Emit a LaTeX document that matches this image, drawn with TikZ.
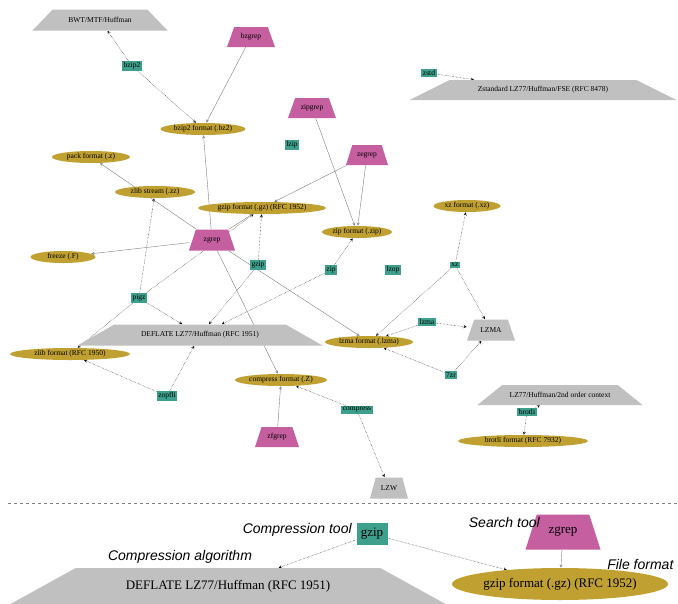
\documentclass[tikz,border=0pt]{standalone}
\usepackage{fontspec}
\setmainfont{Liberation Serif}
\newfontfamily\legendfont{Liberation Sans}
\usepackage{tikz}
\usetikzlibrary{calc,shapes.geometric,backgrounds}

\definecolor{algogray}{RGB}{192,192,192}
\definecolor{searchpink}{RGB}{197,95,160}
\definecolor{tealbox}{RGB}{62,160,140}
\definecolor{formatgold}{RGB}{191,160,48}

\newcommand{\mainsize}{\fontsize{7.5}{8}\selectfont}
\newcommand{\legendsize}{\fontsize{13}{15}\selectfont}

\tikzset{
  trap/.style={rectangle, inner sep=1pt, path picture={
    \fill[#1] (path picture bounding box.south west) -- (path picture bounding box.south east)
      -- ($(path picture bounding box.north east)!0.15!(path picture bounding box.north west)$)
      -- ($(path picture bounding box.north west)!0.15!(path picture bounding box.north east)$) -- cycle;}},
  algo/.style={trap=algogray, font=\mainsize},
  search/.style={trap=searchpink, font=\mainsize},
  tool/.style={rectangle, fill=tealbox, inner sep=1.5pt, font=\mainsize},
  format/.style={ellipse, fill=formatgold, inner xsep=-8pt, inner ysep=0pt, minimum height=12, font=\mainsize},
  toollink/.style={->, >=stealth, densely dotted},
  searchlink/.style={->, >=stealth, gray},
  legendlabel/.style={font=\legendfont\itshape\fontsize{14}{16}\selectfont, inner sep=1pt}
}

\begin{document}
\begin{tikzpicture}[x=1pt, y=-1pt, semithick]
  \useasboundingbox (0,0) rectangle (678,603);

  % algorithms
  \node[algo, minimum width=135, minimum height=21] (bwt) at (100,20) {BWT/MTF/Huffman};
  \node[algo, minimum width=267, minimum height=20] (zstdalg) at (543,90) {Zstandard LZ77/Huffman/FSE (RFC 8478)};
  \node[algo, minimum width=245, minimum height=21] (deflate) at (200,335) {DEFLATE LZ77/Huffman (RFC 1951)};
  \node[algo, minimum width=48, minimum height=21] (lzma) at (491,330) {LZMA};
  \node[algo, minimum width=165, minimum height=20] (brotlialg) at (560,395) {LZ77/Huffman/2nd order context};
  \node[algo, minimum width=38, minimum height=21] (lzw) at (389,488) {LZW};

  % search tools
  \node[search, minimum width=48, minimum height=20] (bzgrep) at (251,37) {bzgrep};
  \node[search, minimum width=48, minimum height=20] (zipgrep) at (312,108) {zipgrep};
  \node[search, minimum width=42, minimum height=20] (zegrep) at (367,155) {zegrep};
  \node[search, minimum width=46, minimum height=21] (zgrep) at (212,240) {zgrep};
  \node[search, minimum width=44, minimum height=20] (zfgrep) at (277,437) {zfgrep};

  % compression tools
  \node[tool] (bzip2) at (132,66) {bzip2};
  \node[tool] (zstd) at (429,73) {zstd};
  \node[tool] (lzip) at (292,145) {lzip};
  \node[tool] (pigz) at (139,298) {pigz};
  \node[tool] (gzip) at (258,265) {gzip};
  \node[tool] (zip) at (331,270) {zip};
  \node[tool] (lzop) at (393,270) {lzop};
  \node[tool] (xz) at (455,265) {xz};
  \node[tool] (lzmatool) at (427,322) {lzma};
  \node[tool] (unlzma) at (451,375) {7zr};
  \node[tool] (zopfli) at (167,396) {zopfli};
  \node[tool] (compress) at (357,410) {compress};
  \node[tool] (brotli) at (527,412) {brotli};

  % file formats
  \node[format, minimum width=85] (bzfmt) at (203,129) {bzip2 format (.bz2)};
  \node[format, minimum width=78] (packfmt) at (91,157) {pack format (.z)};
  \node[format, minimum width=80] (zzfmt) at (155,192) {zlib stream (.zz)};
  \node[format, minimum width=128] (gzfmt) at (262,208) {gzip format (.gz) (RFC 1952)};
  \node[format, minimum width=65] (freezefmt) at (63,257) {freeze (.F)};
  \node[format, minimum width=70] (zipfmt) at (357,232) {zip format (.zip)};
  \node[format, minimum width=67] (xzfmt) at (467,206) {xz format (.xz)};
  \node[format, minimum width=120] (zlibfmt) at (70,354) {zlib format (RFC 1950)};
  \node[format, minimum width=88] (lzmafmt) at (369,342) {lzma format (.lzma)};
  \node[format, minimum width=92] (Zfmt) at (281,380) {compress format (.Z)};
  \node[format, minimum width=130] (brfmt) at (523,441) {brotli format (RFC 7932)};

  % legend
  \node[tool, font=\legendsize, minimum width=31, minimum height=22] (gzipL) at (372,534) {gzip};
  \node[algo, font=\legendsize, minimum width=435, minimum height=36] (deflateL) at (228,586) {DEFLATE LZ77/Huffman (RFC 1951)};
  \node[format, font=\legendsize, minimum width=216, minimum height=32] (gzL) at (560,584) {gzip format (.gz) (RFC 1952)};
  \node[search, font=\legendsize, minimum width=75, minimum height=35] (zgrepL) at (563,532) {zgrep};
  \node[legendlabel, anchor=east] (toolL) at (353,530) {Compression tool};
  \node[legendlabel] (algoL) at (180,557) {Compression algorithm};
  \node[legendlabel, anchor=east] (searchL) at (541,522) {Search tool};
  \node[legendlabel, anchor=west] (formatL) at (606,564) {File format};

  \begin{pgfonlayer}{background}
  \fill[white] (0,0) rectangle (678,603);
  \draw[dashed, gray, thin] (8,503) -- (678,503);

  \draw[toollink] (bzip2) -- (bwt);
  \draw[toollink] (bzip2) -- (bzfmt);
  \draw[toollink] (zstd) -- (zstdalg);
  \draw[toollink] (pigz) -- (zzfmt);
  \draw[toollink] (pigz) -- (gzfmt);
  \draw[toollink] (pigz) -- (deflate);
  \draw[toollink] (pigz) -- (zlibfmt);
  \draw[toollink] (gzip) -- (gzfmt);
  \draw[toollink] (gzip) -- (deflate);
  \draw[toollink] (zip) -- (zipfmt);
  \draw[toollink] (zip) -- (deflate);
  \draw[toollink] (zopfli) -- (zlibfmt);
  \draw[toollink] (zopfli) -- (deflate);
  \draw[toollink] (xz) -- (xzfmt);
  \draw[toollink] (xz) -- (lzma);
  \draw[toollink] (xz) -- (lzmafmt);
  \draw[toollink] (lzmatool) -- (lzmafmt);
  \draw[toollink] (lzmatool) -- (lzma);
  \draw[toollink] (unlzma) -- (lzmafmt);
  \draw[toollink] (unlzma) -- (lzma);
  \draw[toollink] (compress) -- (Zfmt);
  \draw[toollink] (compress) -- (lzw);
  \draw[toollink] (brotli) -- (brotlialg);
  \draw[toollink] (brotli) -- (brfmt);

  \draw[searchlink] (bzgrep) -- (bzfmt);
  \draw[searchlink] (zipgrep) -- (zipfmt);
  \draw[searchlink] (zegrep) -- (zipfmt);
  \draw[searchlink] (zegrep) -- (gzfmt);
  \draw[searchlink] (zgrep) -- (gzfmt);
  \draw[searchlink] (zgrep) -- (packfmt);
  \draw[searchlink] (zgrep) -- (freezefmt);
  \draw[searchlink] (zgrep) -- (bzfmt);
  \draw[searchlink] (zgrep) -- (lzmafmt);
  \draw[searchlink] (zgrep) -- (Zfmt);
  \draw[searchlink] (zfgrep) -- (Zfmt);

  \draw[toollink] (gzipL) -- (deflateL);
  \draw[toollink] (gzipL) -- (gzL);
  \draw[searchlink] (zgrepL) -- (gzL);
  \end{pgfonlayer}
\end{tikzpicture}
\end{document}
